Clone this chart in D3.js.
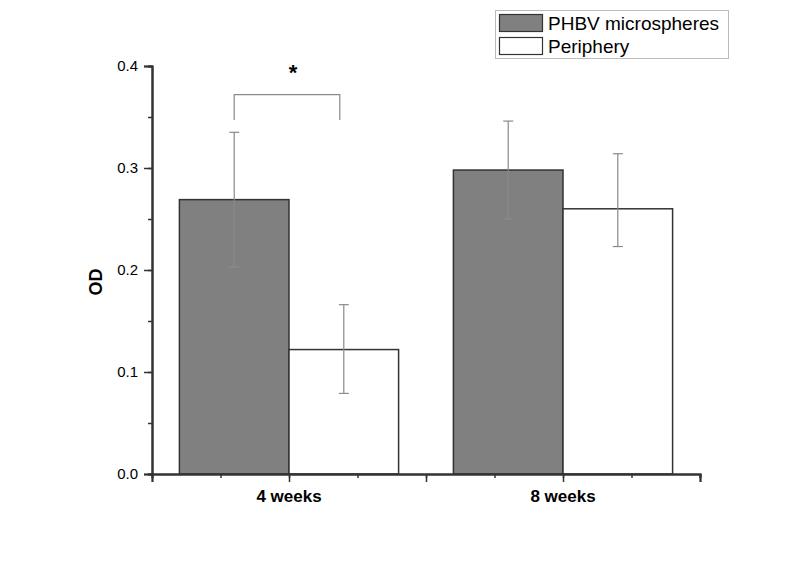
<!DOCTYPE html>
<html>
<head>
<meta charset="utf-8">
<script src="https://cdn.jsdelivr.net/npm/d3@7"></script>
<style>
  body { margin: 0; background: #fff; }
  svg text { font-family: "Liberation Sans", Arial, sans-serif; }
</style>
</head>
<body>
<svg id="chart" width="798" height="563"></svg>
<script>
// Values.
var groups = ["4 weeks", "8 weeks"];
var series = ["PHBV microspheres", "Periphery"];
var phbv = [0.269, 0.298];
var phbvErrUp = [0.066, 0.048];
var phbvErrDown = [0.066, 0.048];
var periphery = [0.122, 0.260];
var peripheryErrUp = [0.044, 0.054];
var peripheryErrDown = [0.043, 0.037];
var yTicks = [0, 0.1, 0.2, 0.3, 0.4];

var svg = d3.select("#chart");
var fills = ["#808080", "#ffffff"];

// x is a linear axis 0..4, groups sit at 1 and 3
var x = d3.scaleLinear().domain([0, 4]).range([152, 700]);
var y = d3.scaleLinear().domain([0, 0.4]).range([474, 66]);
var barW = x(0.8) - x(0);

var rows = [];
groups.forEach(function (g, i) {
  rows.push({ g: i, s: 0, v: phbv[i], up: phbvErrUp[i], dn: phbvErrDown[i] });
  rows.push({ g: i, s: 1, v: periphery[i], up: peripheryErrUp[i], dn: peripheryErrDown[i] });
});
function cx(d) { var c = x(1 + 2 * d.g); return d.s === 0 ? c - barW / 2 : c + barW / 2; }

// bars
svg.append("g").selectAll("rect").data(rows).join("rect")
  .attr("x", function (d) { return cx(d) - barW / 2; })
  .attr("y", function (d) { return y(d.v); })
  .attr("width", barW)
  .attr("height", function (d) { return y(0) - y(d.v); })
  .attr("fill", function (d) { return fills[d.s]; })
  .attr("stroke", "#333").attr("stroke-width", 1.5);

// error bars
var eb = svg.append("g").attr("stroke", "#8a8a8a").attr("stroke-width", 1.2);
eb.selectAll("line.v").data(rows).join("line").attr("class", "v")
  .attr("x1", cx).attr("x2", cx)
  .attr("y1", function (d) { return y(d.v + d.up); })
  .attr("y2", function (d) { return y(d.v - d.dn); });
eb.selectAll("line.t").data(rows).join("line").attr("class", "t")
  .attr("x1", function (d) { return cx(d) - 5; }).attr("x2", function (d) { return cx(d) + 5; })
  .attr("y1", function (d) { return y(d.v + d.up); }).attr("y2", function (d) { return y(d.v + d.up); });
eb.selectAll("line.b").data(rows).join("line").attr("class", "b")
  .attr("x1", function (d) { return cx(d) - 5; }).attr("x2", function (d) { return cx(d) + 5; })
  .attr("y1", function (d) { return y(d.v - d.dn); }).attr("y2", function (d) { return y(d.v - d.dn); });

// significance bracket for 4 weeks
var b0 = cx(rows[0]), b1 = cx(rows[1]) - 4;
svg.append("path")
  .attr("d", "M" + b0 + "," + y(0.347) + "V" + y(0.372) + "H" + b1 + "V" + y(0.347))
  .attr("fill", "none").attr("stroke", "#8a8a8a").attr("stroke-width", 1.2);
svg.append("text").attr("x", (b0 + b1) / 2 + 6).attr("y", 80)
  .attr("text-anchor", "middle").attr("font-size", 22).attr("font-weight", "bold")
  .text("*");

// y axis
var yAxis = svg.append("g").attr("transform", "translate(152,0)");
yAxis.call(d3.axisLeft(y).tickValues(d3.range(0, 0.401, 0.05)).tickSize(4).tickFormat(""));
yAxis.append("g").call(d3.axisLeft(y).tickValues(yTicks).tickSize(8).tickPadding(6).tickFormat(d3.format(".1f")));
yAxis.selectAll(".domain").attr("stroke", "#333").attr("stroke-width", 2);
yAxis.selectAll(".tick line").attr("stroke", "#333").attr("stroke-width", 1.5);
yAxis.selectAll(".tick text").attr("font-size", 15).attr("fill", "#000");

// x axis
var xAxis = svg.append("g").attr("transform", "translate(0,474)");
xAxis.call(d3.axisBottom(x).tickValues(d3.range(0, 4.01, 0.5)).tickSize(4).tickFormat(""));
xAxis.append("g").call(d3.axisBottom(x).tickValues([0, 1, 2, 3, 4]).tickSize(8).tickFormat(""));
xAxis.selectAll(".domain").attr("stroke", "#333").attr("stroke-width", 2);
xAxis.selectAll(".tick line").attr("stroke", "#333").attr("stroke-width", 1.5);
svg.selectAll("text.grp").data(groups).join("text").attr("class", "grp")
  .attr("x", function (d, i) { return x(1 + 2 * i); }).attr("y", 502)
  .attr("text-anchor", "middle").attr("font-size", 17).attr("font-weight", "bold")
  .attr("fill", "#000")
  .text(function (d) { return d; });

// y label
svg.append("text").attr("transform", "translate(102,282) rotate(-90)")
  .attr("text-anchor", "middle").attr("font-size", 18).attr("font-weight", "bold")
  .text("OD");

// legend
var lg = svg.append("g");
lg.append("rect").attr("x", 495.5).attr("y", 10.5).attr("width", 233).attr("height", 48)
  .attr("fill", "#fff").attr("stroke", "#bbb");
series.forEach(function (s, i) {
  lg.append("rect").attr("x", 499.5).attr("y", 14.5 + i * 23).attr("width", 43).attr("height", 17)
    .attr("fill", fills[i]).attr("stroke", "#333").attr("stroke-width", 1.2);
  lg.append("text").attr("x", 548).attr("y", 30 + i * 23).attr("font-size", 19).text(s);
});
</script>
</body>
</html>
